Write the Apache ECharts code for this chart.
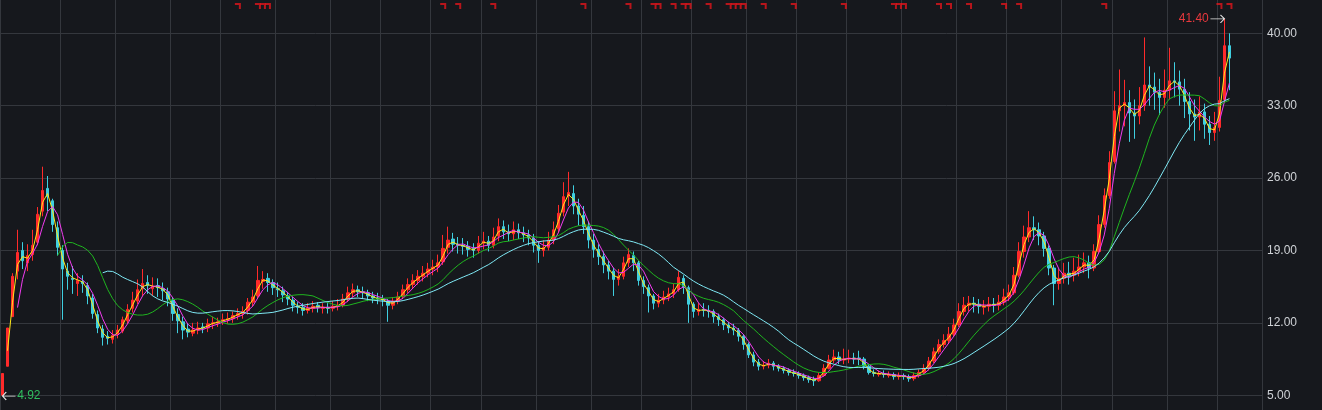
<!DOCTYPE html>
<html>
<head>
<meta charset="utf-8">
<script src="https://cdn.jsdelivr.net/npm/echarts@6/dist/echarts.min.js"></script>
<style>
html,body{margin:0;padding:0;background:#16181d;}
#c{width:1322px;height:410px;}
</style>
</head>
<body>
<div id="c"></div>
<script>
// Candles: [open, close, low, high]
const candles = [
[5.0,7.1,4.92,7.1],[7.8,11.5,7.8,11.5],[12.6,16.5,12.6,16.8],[17.0,18.8,16.2,21.0],[19.0,18.0,17.2,19.8],
[17.8,18.5,17.0,19.6],[18.6,19.5,18.0,21.0],[19.8,22.5,19.5,23.2],[22.8,24.8,22.3,27.1],[25.0,24.2,22.8,26.2],
[23.8,21.5,20.8,24.0],[21.2,19.3,18.5,21.8],[19.0,17.2,12.3,19.5],[17.0,16.5,15.2,17.8],[16.3,16.2,14.8,17.5],
[15.8,16.1,14.6,16.8],[16.0,15.8,14.9,16.6],[15.6,14.6,13.8,15.9],[14.4,12.9,12.4,14.8],[12.8,11.5,11.0,13.2],
[11.4,10.6,9.8,11.8],[10.7,10.5,9.9,11.2],[10.4,10.8,10.0,11.3],[10.9,11.3,10.5,11.8],[11.2,12.3,11.0,12.6],
[12.2,13.3,11.9,13.8],[13.4,14.2,13.0,15.0],[14.1,15.2,13.8,16.2],[15.3,15.8,14.6,17.2],[15.9,15.6,14.8,16.6],
[15.3,15.5,14.6,16.4],[15.6,15.4,14.5,16.3],[15.3,15.1,14.2,15.9],[15.0,14.3,13.6,15.4],[14.2,12.9,12.2,14.5],
[12.8,12.2,11.0,13.4],[12.1,11.3,10.4,12.6],[11.4,11.1,10.6,11.9],[11.0,11.3,10.7,12.0],[11.3,11.5,10.9,12.1],
[11.6,11.5,11.0,12.0],[11.5,11.9,11.1,12.4],[11.9,12.0,11.4,12.6],[12.0,12.1,11.6,12.5],[12.2,12.3,11.8,12.9],
[12.3,12.4,11.9,13.0],[12.4,12.7,12.0,13.1],[12.7,12.9,12.3,13.4],[12.9,13.1,12.4,13.6],[13.2,14.0,12.8,14.4],
[14.0,14.5,13.6,15.2],[14.6,16.1,14.4,17.5],[16.0,16.2,15.3,17.0],[16.3,15.9,15.0,16.8],[15.9,15.4,14.7,16.2],
[15.3,15.2,14.5,15.9],[15.1,14.7,14.0,15.5],[14.6,14.3,13.7,15.0],[14.2,13.7,13.1,14.5],[13.6,13.5,12.9,14.0],
[13.5,13.2,12.7,13.9],[13.2,13.4,12.9,13.9],[13.4,13.6,13.0,14.1],[13.7,13.5,13.0,14.0],[13.4,13.5,12.9,13.9],
[13.5,13.4,12.9,13.9],[13.4,13.6,13.1,14.1],[13.6,13.7,13.2,14.3],[13.7,14.3,13.5,14.8],[14.3,14.9,14.0,15.5],
[14.9,15.2,14.5,15.8],[15.2,15.0,14.5,15.6],[15.0,14.9,14.3,15.5],[14.9,14.6,14.1,15.2],[14.6,14.4,13.9,15.0],
[14.4,14.3,13.8,14.9],[14.3,14.2,13.6,14.7],[14.1,13.7,12.1,14.3],[13.7,14.1,13.3,14.5],[14.1,14.5,13.8,15.0],
[14.6,15.2,14.3,15.7],[15.2,15.7,14.9,16.3],[15.7,16.1,15.3,16.7],[16.1,16.5,15.7,17.1],[16.5,16.8,16.0,17.5],
[16.8,17.2,16.4,17.8],[17.2,17.4,16.6,18.1],[17.4,17.8,16.9,18.6],[17.9,19.2,17.6,20.5],[19.3,20.0,18.7,21.3],
[20.1,19.6,18.9,20.7],[19.6,19.5,18.7,20.3],[19.5,19.4,18.6,20.2],[19.4,19.1,18.4,19.9],[19.2,19.0,18.3,19.7],
[19.0,19.7,18.7,20.4],[19.7,19.9,19.1,20.8],[19.9,19.5,18.9,20.4],[19.5,20.3,19.2,21.2],[20.4,21.3,19.9,22.1],
[21.3,20.8,20.1,21.9],[20.8,20.6,19.9,21.5],[20.6,21.0,20.0,21.8],[21.0,20.7,20.1,21.6],[20.7,20.5,19.8,21.3],
[20.5,20.2,19.5,21.0],[20.2,19.5,18.8,20.6],[19.5,19.0,17.8,19.9],[19.0,19.3,18.4,20.0],[19.3,20.0,19.0,20.8],
[20.0,21.0,19.6,21.8],[21.1,22.6,20.7,23.4],[22.7,24.2,22.3,25.6],[24.3,24.6,23.3,26.6],[24.5,23.3,22.5,25.3],
[23.3,22.5,21.4,24.0],[22.4,21.3,20.6,23.3],[21.3,20.0,19.2,21.8],[20.0,19.1,18.3,20.6],[19.1,18.4,17.6,19.6],
[18.4,17.6,16.8,18.9],[17.6,17.0,16.2,18.0],[17.0,16.2,14.6,17.3],[16.2,16.5,15.6,17.2],[16.5,17.8,16.2,18.4],
[17.8,18.6,17.4,19.2],[18.5,17.8,17.0,18.9],[17.8,16.1,15.6,18.0],[16.1,15.5,14.8,16.5],[15.4,14.6,13.0,15.7],
[14.6,13.9,13.3,14.8],[13.9,14.2,13.5,14.8],[14.2,14.5,13.8,15.1],[14.5,14.8,14.1,15.4],[14.8,15.2,14.4,15.8],
[15.2,16.4,15.0,17.0],[16.3,15.5,14.8,16.6],[15.4,13.8,12.0,15.6],[13.8,13.1,12.5,14.0],[13.1,13.3,12.7,13.9],
[13.3,13.2,12.6,13.9],[13.2,13.1,12.5,13.7],[13.1,12.6,12.0,13.3],[12.6,12.3,11.7,12.9],[12.3,11.8,11.3,12.5],
[11.8,11.5,11.0,12.1],[11.5,11.3,10.8,11.9],[11.3,10.7,10.2,11.5],[10.7,9.9,9.4,10.9],[9.9,8.9,8.6,10.1],
[8.9,8.2,7.8,9.2],[8.2,7.8,7.4,8.5],[7.8,7.9,7.5,8.3],[7.9,8.1,7.6,8.5],[8.1,7.8,7.4,8.3],
[7.8,7.6,7.3,8.0],[7.6,7.4,7.1,7.8],[7.4,7.2,6.9,7.6],[7.2,7.1,6.8,7.5],[7.1,6.9,6.6,7.3],
[6.9,6.7,6.4,7.1],[6.7,6.5,6.2,6.9],[6.5,6.4,5.9,6.8],[6.4,6.9,6.3,7.2],[6.9,7.6,6.8,8.0],
[7.6,8.4,7.5,8.9],[8.4,8.7,8.1,9.4],[8.7,8.4,8.0,9.2],[8.4,8.5,8.0,9.5],[8.5,8.6,8.1,9.4],
[8.6,8.5,8.0,9.1],[8.6,8.5,7.9,9.3],[8.5,7.8,7.5,8.7],[7.8,7.2,7.0,8.0],[7.2,7.1,6.8,7.5],
[7.0,7.1,6.8,7.4],[7.1,7.0,6.7,7.4],[6.9,7.0,6.7,7.3],[7.0,6.8,6.5,7.2],[6.8,6.9,6.5,7.2],
[6.9,6.8,6.5,7.1],[6.8,6.6,6.3,7.0],[6.6,6.9,6.4,7.2],[6.9,7.2,6.7,7.5],[7.2,7.6,7.0,8.0],
[7.6,8.3,7.4,8.7],[8.3,9.2,8.1,9.6],[9.2,9.9,9.0,10.4],[9.9,10.3,9.6,10.9],[10.3,10.9,10.0,11.6],
[10.9,11.8,10.7,12.4],[11.8,13.1,11.6,13.9],[13.1,13.7,12.7,14.5],[13.7,13.9,13.1,14.6],[13.9,13.8,13.0,14.5],
[13.8,13.6,12.9,14.3],[13.5,13.6,12.8,14.2],[13.6,13.8,13.1,14.5],[13.8,13.7,13.0,14.4],[13.7,14.0,13.2,14.7],
[14.0,14.5,13.7,15.3],[14.5,14.9,14.1,15.7],[14.9,16.6,14.7,17.4],[16.6,18.9,16.4,19.8],[18.9,20.3,18.3,21.4],
[20.3,21.2,19.8,22.8],[21.2,21.0,20.0,22.3],[21.0,20.4,19.5,21.7],[20.4,19.2,18.4,20.8],[19.2,17.3,16.6,19.5],
[17.3,15.8,13.7,17.6],[15.8,16.3,15.2,17.2],[16.3,16.8,15.8,17.8],[16.8,16.6,15.7,17.9],[16.6,17.0,16.0,18.3],
[17.0,17.4,16.5,18.6],[17.4,17.8,16.8,18.8],[17.8,17.3,16.3,18.5],[17.3,18.9,17.0,19.6],[18.9,21.5,18.7,22.4],
[21.5,24.3,21.2,25.0],[24.3,27.5,24.0,28.6],[27.6,32.5,27.4,34.4],[32.5,33.0,30.5,36.5],[33.0,33.3,31.0,35.5],
[33.3,32.3,29.5,34.5],[32.3,32.0,29.8,33.6],[32.0,33.0,31.2,34.8],[33.0,35.0,32.5,39.6],[35.0,34.8,33.0,36.8],
[34.8,34.3,32.6,36.2],[34.3,33.8,32.1,35.6],[33.8,34.5,32.8,36.5],[34.5,35.4,33.6,38.6],[35.4,35.3,33.8,37.2],
[35.3,34.6,33.0,36.4],[34.6,33.4,31.8,35.6],[33.4,32.2,30.6,34.3],[32.2,31.9,29.6,33.6],[31.9,32.4,30.6,33.9],
[32.4,31.2,29.8,33.2],[31.2,30.4,29.2,32.0],[30.4,30.9,29.6,32.4],[30.9,33.5,30.5,35.8],[33.6,38.8,33.3,41.4],
[38.8,37.6,34.5,40.0]
];
// Trailing empty slots to the right of the last candle
const emptySlots = 6;
// Candle indices at which a new month begins (vertical grid lines)
const monthStarts = [0,12,23,34,44,55,66,76,86,96,107,118,128,138,149,159,169,180,191,201,212,222,233,243];
// Candle indices carrying the red event markers at the top
const eventMarks = [47,51,52,53,88,91,98,116,125,130,131,134,136,137,141,145,146,147,148,152,158,168,178,179,180,187,189,193,200,203,220,243,245];
// Price tick labels on the right axis
const priceTicks = [5,12,19,26,33,40];
// Moving-average windows (in candles) and colours
const maWindows = [2,4,12,21];
const maColors = ['#ffe81a','#f23cf0','#1fb51f','#7fe9f5'];

const categories = candles.map((_, i) => String(i + 1)).concat(new Array(emptySlots).fill(''));
const closes = candles.map(c => c[1]);
function calcMA(n) {
  return closes.map((_, i) => {
    if (i < n - 1) return '-';
    let s = 0;
    for (let k = i - n + 1; k <= i; k++) s += closes[k];
    return +(s / n).toFixed(3);
  });
}

const grid = '#34373d';
const chart = echarts.init(document.getElementById('c'), null, {renderer: 'canvas'});
const series = [{
  type: 'candlestick',
  data: candles,
  barWidth: 3,
  clip: false,
  itemStyle: {color: '#ff2a2a', color0: '#3fcfe0', borderColor: '#ff2a2a', borderColor0: '#3fcfe0', borderWidth: 1},
  markPoint: {
    silent: true,
    itemStyle: {color: 'rgba(0,0,0,0)', borderColor: '#e6e6e6', borderWidth: 1},
    data: [
      {type: 'max', valueDim: 'highest', symbol: 'path://M0,4L14,4M10,0L14,4L10,8', symbolSize: [14, 8], symbolOffset: [-7, 0],
       label: {show: true, position: 'left', distance: 1, color: '#e8383d', fontSize: 12, fontFamily: 'Liberation Sans, Arial', formatter: p => Number(p.value).toFixed(2)}},
      {type: 'min', valueDim: 'lowest', symbol: 'path://M14,4L0,4M4,0L0,4L4,8', symbolSize: [13, 8], symbolOffset: [6.5, 0],
       label: {show: true, position: 'right', distance: 1, color: '#2fbf5f', fontSize: 12, fontFamily: 'Liberation Sans, Arial', formatter: p => Number(p.value).toFixed(2)}}
    ]
  }
}];
maWindows.forEach((n, k) => {
  series.push({type: 'line', data: calcMA(n), showSymbol: false, symbol: 'none', smooth: false,
    lineStyle: {width: 1, color: maColors[k]}, z: 3});
});
series.push({
  type: 'scatter', yAxisIndex: 1, data: eventMarks.map(i => [i, 1]),
  symbol: 'path://M0,0L6,0L6,6L4,6L4,2L0,2Z', symbolSize: [6, 6], symbolOffset: [0, 6],
  itemStyle: {color: '#e0151c'}, silent: true, z: 4
});

chart.setOption({
  animation: false,
  backgroundColor: '#16181d',
  grid: {left: 0, right: 60, top: 0, bottom: 0, containLabel: false},
  xAxis: {
    type: 'category', data: categories, boundaryGap: true,
    axisLine: {show: false}, axisTick: {show: false}, axisLabel: {show: false},
    splitLine: {show: true, interval: (idx) => monthStarts.includes(idx), lineStyle: {color: grid, width: 1}}
  },
  yAxis: [{
    type: 'value', position: 'right', min: 3.57, max: 43.22, scale: true,
    axisLine: {show: true, lineStyle: {color: grid}},
    axisTick: {show: false, customValues: priceTicks},
    axisLabel: {show: true, customValues: priceTicks, margin: 5, color: '#cfd2d6', fontSize: 12,
      fontFamily: 'Liberation Sans, Arial', formatter: v => v.toFixed(2)},
    splitLine: {show: true, lineStyle: {color: grid, width: 1}}
  }, {
    type: 'value', min: 0, max: 1, show: false, splitLine: {show: false}
  }],
  series: series
});
</script>
</body>
</html>
